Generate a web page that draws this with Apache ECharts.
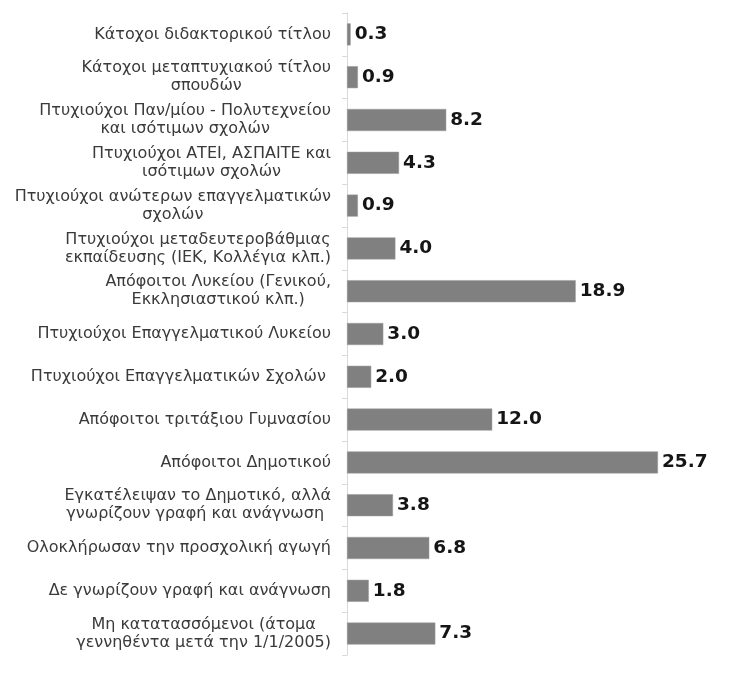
<!DOCTYPE html>
<html>
<head>
<meta charset="utf-8">
<script src="https://cdn.jsdelivr.net/npm/echarts@6/dist/echarts.min.js"></script>
<style>
  html, body { margin: 0; padding: 0; background: #fff; }
  #chart { width: 737px; height: 675px; }
</style>
</head>
<body>
<div id="chart"></div>
<script>
// Education level categories (top to bottom)
const categories = [
  'Κάτοχοι διδακτορικού τίτλου',
  'Κάτοχοι μεταπτυχιακού τίτλου\nσπουδών',
  'Πτυχιούχοι Παν/μίου - Πολυτεχνείου\nκαι ισότιμων σχολών',
  'Πτυχιούχοι ΑΤΕΙ, ΑΣΠΑΙΤΕ και\nισότιμων σχολών',
  'Πτυχιούχοι ανώτερων επαγγελματικών\nσχολών',
  'Πτυχιούχοι μεταδευτεροβάθμιας\nεκπαίδευσης (ΙΕΚ, Κολλέγια κλπ.)',
  'Απόφοιτοι Λυκείου (Γενικού,\nΕκκλησιαστικού κλπ.)',
  'Πτυχιούχοι Επαγγελματικού Λυκείου',
  'Πτυχιούχοι Επαγγελματικών Σχολών ',
  'Απόφοιτοι τριτάξιου Γυμνασίου',
  'Απόφοιτοι Δημοτικού',
  'Εγκατέλειψαν το Δημοτικό, αλλά\nγνωρίζουν γραφή και ανάγνωση ',
  'Ολοκλήρωσαν την προσχολική αγωγή',
  'Δε γνωρίζουν γραφή και ανάγνωση',
  'Μη κατατασσόμενοι (άτομα\nγεννηθέντα μετά την 1/1/2005)'
];

// Share of population per category (%)
const values = [0.3, 0.9, 8.2, 4.3, 0.9, 4.0, 18.9, 3.0, 2.0, 12.0, 25.7, 3.8, 6.8, 1.8, 7.3];

const labelFont = { fontFamily: 'DejaVu Sans', fontSize: 16, color: '#3a3a3a', lineHeight: 18 };

const chart = echarts.init(document.getElementById('chart'));
chart.setOption({
  animation: false,
  backgroundColor: '#ffffff',
  grid: { left: 347, top: 13, width: 363, height: 642, containLabel: false },
  xAxis: {
    type: 'value',
    min: 0,
    max: 30,
    show: false
  },
  yAxis: {
    type: 'category',
    inverse: true,
    data: categories,
    axisLine: { show: true, lineStyle: { color: '#d9d9d9', width: 1 } },
    axisTick: { show: true, length: 5, lineStyle: { color: '#d9d9d9' } },
    axisLabel: Object.assign({
      margin: 16,
      align: 'right',
      // each line centred within the right-aligned label block
      formatter: v => v.split('\n').map(l => '{c|' + l + '}').join('\n'),
      rich: { c: Object.assign({ align: 'center' }, labelFont) }
    }, labelFont)
  },
  series: [{
    type: 'bar',
    data: values,
    barWidth: 22,
    itemStyle: { color: '#808080', borderColor: '#9a9a9a', borderWidth: 0.5 },
    label: {
      show: true,
      position: 'right',
      distance: 4,
      fontFamily: 'DejaVu Sans',
      fontWeight: 'bold',
      fontSize: 18.5,
      color: '#151515',
      formatter: p => p.value.toFixed(1)
    }
  }]
});
</script>
</body>
</html>
